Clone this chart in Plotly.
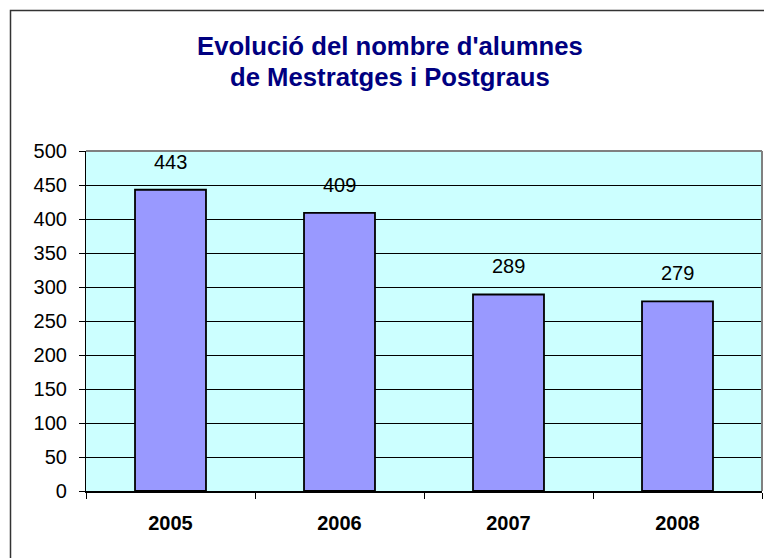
import plotly.graph_objects as go

years = ["2005", "2006", "2007", "2008"]
students = [443, 409, 289, 279]
y_ticks = [0, 50, 100, 150, 200, 250, 300, 350, 400, 450, 500]
title_lines = ["Evolució del nombre d'alumnes", "de Mestratges i Postgraus"]

# the page places the figure 8px in from the top-left corner
OFF = 8
W, H = 772 - OFF, 558 - OFF
L, R, T, B = 86 - OFF, 10, 151 - OFF, 67
pw, ph = W - L - R, H - T - B

def px_x(px):
    return (px - OFF - L) / pw

def px_y(py):
    return (H - B - (py - OFF)) / ph

font_family = "Liberation Sans, Arial, sans-serif"

fig = go.Figure()
fig.add_trace(go.Bar(
    x=years, y=students,
    marker=dict(color="#9999FF", line=dict(color="#000000", width=1.8)),
    hoverinfo="x+y",
))

for i, v in enumerate(students):
    fig.add_annotation(x=i, y=v, text=str(v), showarrow=False,
                       xref="x", yref="y",
                       yanchor="bottom", yshift=15,
                       font=dict(family=font_family, size=20, color="#000000"))

for line, cy in zip(title_lines, [46, 77]):
    fig.add_annotation(x=px_x(390), y=px_y(cy), xref="paper", yref="paper",
                       text="<b>" + line + "</b>", showarrow=False,
                       xanchor="center", yanchor="middle",
                       font=dict(family=font_family, size=25.7, color="#000080"))

fig.update_layout(
    width=W, height=H, autosize=False,
    margin=dict(l=L, r=R, t=T, b=B, pad=0, autoexpand=False),
    paper_bgcolor="#FFFFFF",
    plot_bgcolor="#CCFFFF",
    bargap=0.58,
    showlegend=False,
    font=dict(family=font_family, size=20, color="#000000"),
)

fig.update_xaxes(
    type="category", automargin=False,
    range=[-0.5, 3.5],
    showline=True, linecolor="#000000", linewidth=1.5,
    ticks="outside", tickson="boundaries", ticklen=6, tickcolor="#000000",
    tickfont=dict(family=font_family, size=20, color="#000000", weight="bold"),
    tickangle=0,
    ticklabelstandoff=13,
    showgrid=False,
)
fig.update_yaxes(
    range=[0, 500], tickvals=y_ticks, automargin=False,
    showline=True, linecolor="#000000", linewidth=1.2,
    ticks="outside", ticklen=6, tickcolor="#000000",
    showgrid=True, gridcolor="#000000", gridwidth=1,
    zeroline=False,
    tickfont=dict(family=font_family, size=20, color="#000000"),
    ticklabelstandoff=8,
)

# plot area top/right gray border
fig.add_shape(type="line", xref="paper", yref="paper", x0=0, x1=1, y0=1, y1=1,
              line=dict(color="#808080", width=2), layer="above")
fig.add_shape(type="line", xref="paper", yref="paper", x0=1, x1=1, y0=0, y1=1,
              line=dict(color="#808080", width=2), layer="above")

# outer chart frame
fig.add_shape(type="rect", xref="paper", yref="paper",
              x0=px_x(10.5), x1=px_x(790), y0=px_y(10.5), y1=px_y(580),
              line=dict(color="#333333", width=1.5), layer="above")

fig.write_html("out.html")
